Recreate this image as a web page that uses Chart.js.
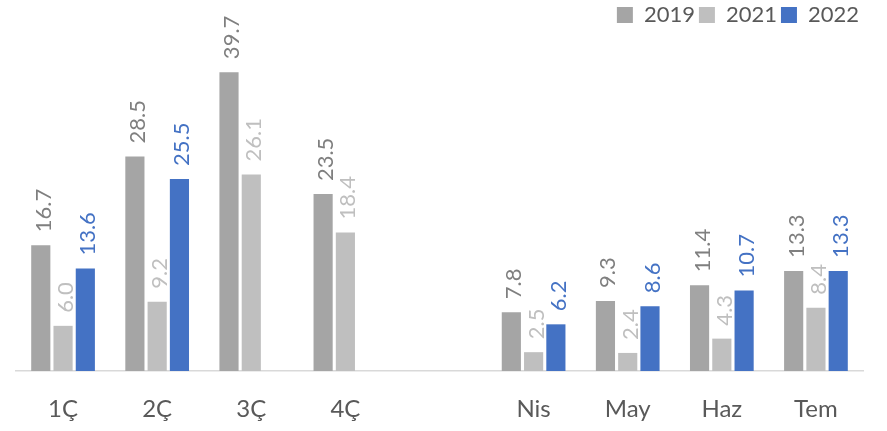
<!DOCTYPE html>
<html>
<head>
  <meta charset="utf-8">
  <title>2019 / 2021 / 2022</title>
  <script src="https://cdn.jsdelivr.net/npm/chart.js@4.4.0/dist/chart.umd.min.js"></script>
  <style>
    html, body { margin: 0; padding: 0; background: #fff; }
    #wrap { width: 887px; height: 431px; }
  </style>
</head>
<body>
<div id="wrap"><canvas id="myChart"></canvas></div>
<script>
  var categories = ['1Ç', '2Ç', '3Ç', '4Ç', '', 'Nis', 'May', 'Haz', 'Tem'];
  var values2019 = [16.7, 28.5, 39.7, 23.5, null, 7.8, 9.3, 11.4, 13.3];
  var values2021 = [6.0, 9.2, 26.1, 18.4, null, 2.5, 2.4, 4.3, 8.4];
  var values2022 = [13.6, 25.5, null, null, null, 6.2, 8.6, 10.7, 13.3];

  var fontFamily = 'Lato, "Open Sans", sans-serif';

  // rotated value labels above each bar
  var barLabels = {
    id: 'barLabels',
    afterDatasetsDraw: function(chart) {
      var ctx = chart.ctx;
      chart.data.datasets.forEach(function(ds, i) {
        var meta = chart.getDatasetMeta(i);
        meta.data.forEach(function(bar, j) {
          var v = ds.data[j];
          if (v === null || v === undefined) return;
          ctx.save();
          ctx.translate(bar.x + 10, bar.y - 13);
          ctx.rotate(-Math.PI / 2);
          ctx.font = '22px ' + fontFamily;
          ctx.fillStyle = ds.labelColor;
          ctx.textAlign = 'left';
          ctx.textBaseline = 'alphabetic';
          ctx.fillText(v.toFixed(1), 0, 0);
          ctx.restore();
        });
      });
    }
  };

  var ctx = document.getElementById('myChart').getContext('2d');
  var chart = new Chart(ctx, {
    type: 'bar',
    data: {
      labels: categories,
      datasets: [{
        label: '2019',
        data: values2019,
        backgroundColor: '#A5A5A5',
        labelColor: '#7F7F7F'
      }, {
        label: '2021',
        data: values2021,
        backgroundColor: '#BFBFBF',
        labelColor: '#BFBFBF'
      }, {
        label: '2022',
        data: values2022,
        backgroundColor: '#4472C4',
        labelColor: '#4472C4'
      }]
    },
    options: {
      responsive: true,
      maintainAspectRatio: false,
      animation: false,
      datasets: {
        bar: {
          categoryPercentage: 0.71,
          barPercentage: 0.86
        }
      },
      layout: {
        padding: { left: 16, right: 24, top: 0, bottom: 0 }
      },
      scales: {
        x: {
          grid: { display: false, drawTicks: false },
          border: { display: true, color: '#D9D9D9', width: 1.5 },
          ticks: {
            color: '#595959',
            padding: 24,
            font: { size: 24, family: fontFamily }
          },
          afterFit: function(scale) { scale.height = 60; }
        },
        y: {
          display: false,
          min: 0,
          max: 44.5
        }
      },
      plugins: {
        legend: {
          align: 'end',
          labels: {
            boxWidth: 16,
            boxHeight: 16,
            color: '#595959',
            padding: 4,
            font: { size: 22, family: fontFamily }
          }
        },
        tooltip: { enabled: false }
      }
    },
    plugins: [barLabels]
  });
</script>
</body>
</html>
